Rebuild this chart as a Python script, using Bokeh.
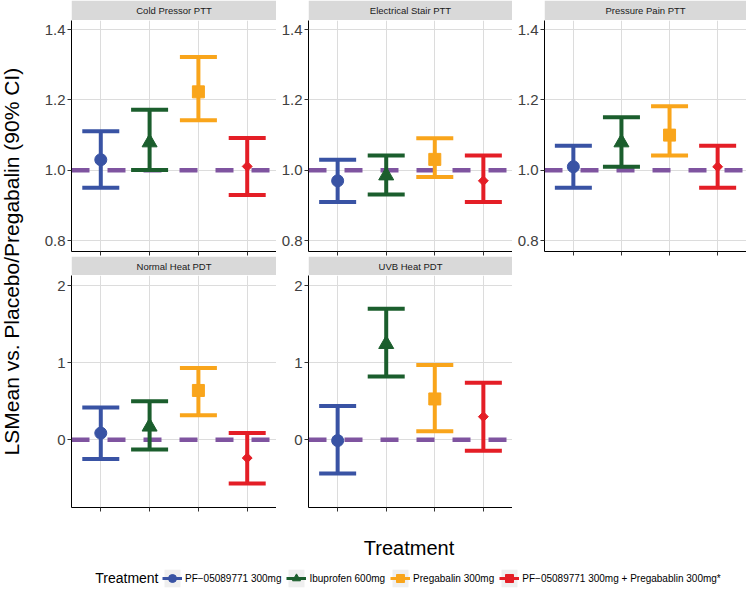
import math
from bokeh.plotting import figure
from bokeh.models import (Range1d, FactorRange, FixedTicker, Span, Legend, LegendItem,
                          ColumnDataSource, Spacer)
from bokeh.layouts import row, column
from bokeh.core.properties import value
from bokeh.embed import file_html
from bokeh.resources import INLINE

# ---------------- data ----------------
treatments = ["PF\u221205089771 300mg", "Ibuprofen 600mg", "Pregabalin 300mg",
              "PF\u221205089771 300mg + Pregabablin 300mg*"]
panel_titles = ["Cold Pressor PTT", "Electrical Stair PTT", "Pressure Pain PTT",
                "Normal Heat PDT", "UVB Heat PDT"]

cold_mean = [1.030, 1.079, 1.223, 1.011]
cold_low = [0.950, 1.001, 1.142, 0.930]
cold_high = [1.111, 1.172, 1.322, 1.092]

elec_mean = [0.970, 0.985, 1.031, 0.970]
elec_low = [0.910, 0.931, 0.981, 0.910]
elec_high = [1.030, 1.042, 1.091, 1.042]

press_mean = [1.010, 1.079, 1.100, 1.010]
press_low = [0.950, 1.010, 1.042, 0.950]
press_high = [1.070, 1.151, 1.182, 1.070]

normal_mean = [0.087, 0.170, 0.640, -0.235]
normal_low = [-0.250, -0.125, 0.320, -0.565]
normal_high = [0.420, 0.500, 0.930, 0.087]

uvb_mean = [-0.010, 1.240, 0.530, 0.300]
uvb_low = [-0.435, 0.820, 0.110, -0.140]
uvb_high = [0.440, 1.700, 0.970, 0.740]

top_ticks = [0.8, 1.0, 1.2, 1.4]
top_tick_labels = ["0.8", "1.0", "1.2", "1.4"]
bottom_ticks = [0, 1, 2]
bottom_tick_labels = ["0", "1", "2"]
top_reference = 1.0
bottom_reference = 0.0
top_limits = (0.769, 1.426)
bottom_limits = (-0.877, 2.13)

y_title = "LSMean vs. Placebo/Pregabalin (90% CI)"
x_title = "Treatment"
legend_title = "Treatment"

# ---------------- style ----------------
colors = ["#3953A4", "#1B5E2D", "#F9A51B", "#E41E26"]
markers = ["circle", "triangle", "square", "square"]
marker_sizes = [12, 15, 12, 7]
marker_angles = [0, 0, 0, math.pi / 4]
ref_color = "#7F54A0"
FONT = "Liberation Sans"
GRID = "#DCDCDC"

FRAME_WS = [205, 204, 202]
ROW_FRAME_H = [231, 232]
STRIP_H = [20, 19]
BOTTOM_B = 5
YLAB_W = 35
LEFT0 = 36
LEFTN = 32
NAN = float("nan")


def make_panel(means, lows, highs, limits, ticks, tick_labels, ref, left, fw, fh):
    src = ColumnDataSource(dict(t=treatments, mean=means, low=lows, high=highs,
                                color=colors, marker=markers, size=marker_sizes,
                                angle=marker_angles))
    p = figure(width=left + fw, height=fh + BOTTOM_B,
               x_range=FactorRange(factors=treatments, range_padding=0.1,
                                   range_padding_units="absolute"),
               y_range=Range1d(*limits), output_backend="svg", toolbar_location=None,
               min_border_left=left, min_border_right=0, min_border_top=0,
               min_border_bottom=BOTTOM_B)
    p.outline_line_color = None
    p.background_fill_color = "white"
    p.border_fill_color = "white"
    p.xgrid.grid_line_color = GRID
    p.ygrid.grid_line_color = GRID
    p.xgrid.grid_line_width = 1
    p.ygrid.grid_line_width = 1

    p.yaxis.ticker = FixedTicker(ticks=ticks)
    p.yaxis.major_label_overrides = {t: l for t, l in zip(ticks, tick_labels)}
    p.yaxis.minor_tick_line_color = None
    p.yaxis.major_label_text_font = FONT
    p.yaxis.major_label_text_font_size = "15px"
    p.yaxis.major_label_text_color = "#404040"
    p.yaxis.major_label_standoff = 2
    p.axis.major_tick_out = 4
    p.axis.major_tick_in = 0
    p.axis.major_tick_line_color = "#333333"
    p.axis.axis_line_color = "black"
    p.axis.axis_line_width = 1
    # x axis: ticks only, no labels (as in the reference)
    p.xaxis.major_label_text_color = None
    p.xaxis.major_label_text_font_size = "1px"
    p.xaxis.major_label_standoff = 0

    p.add_layout(Span(location=ref, dimension="width", line_color=ref_color,
                      line_width=4.5, line_dash="18 18", level="underlay"))
    p.segment(x0="t", y0="low", x1="t", y1="high", source=src, line_color="color",
              line_width=4)
    p.scatter(x="t", y="low", marker="dash", size=37, line_color="color",
              line_width=4, source=src)
    p.scatter(x="t", y="high", marker="dash", size=37, line_color="color",
              line_width=4, source=src)
    p.scatter(x="t", y="mean", marker="marker", size="size", angle="angle",
              fill_color="color", line_color="color", source=src)
    return p


def make_strip(title, left, fw, h):
    s = figure(width=left + fw, height=h, x_range=Range1d(0, 1),
               y_range=Range1d(0, 1), output_backend="svg", toolbar_location=None,
               min_border_left=left, min_border_right=0, min_border_top=0,
               min_border_bottom=0, x_axis_location=None, y_axis_location=None)
    s.grid.visible = False
    s.outline_line_color = None
    s.quad(left=[0], right=[1], bottom=[0], top=[1], fill_color="#D9D9D9",
           line_color=None)
    s.text(x=[0.5], y=[0.5], text=[title], text_align="center",
           text_baseline="middle", text_font=value(FONT), text_font_size="9.5px",
           text_color="#1A1A1A")
    return s


def blank(width, height, left=0, xr=(0, 1)):
    f = figure(width=width, height=height, x_range=Range1d(*xr), y_range=Range1d(0, 1),
               output_backend="svg", toolbar_location=None, min_border=0,
               min_border_left=left, min_border_right=0, min_border_top=0,
               min_border_bottom=0, x_axis_location=None, y_axis_location=None)
    f.grid.visible = False
    f.outline_line_color = None
    return f


lefts = [LEFT0, LEFTN, LEFTN]
p1 = make_panel(cold_mean, cold_low, cold_high, top_limits, top_ticks, top_tick_labels,
                top_reference, lefts[0], FRAME_WS[0], ROW_FRAME_H[0])
p2 = make_panel(elec_mean, elec_low, elec_high, top_limits, top_ticks, top_tick_labels,
                top_reference, lefts[1], FRAME_WS[1], ROW_FRAME_H[0])
p3 = make_panel(press_mean, press_low, press_high, top_limits, top_ticks, top_tick_labels,
                top_reference, lefts[2], FRAME_WS[2], ROW_FRAME_H[0])
p4 = make_panel(normal_mean, normal_low, normal_high, bottom_limits, bottom_ticks,
                bottom_tick_labels, bottom_reference, lefts[0], FRAME_WS[0], ROW_FRAME_H[1])
p5 = make_panel(uvb_mean, uvb_low, uvb_high, bottom_limits, bottom_ticks,
                bottom_tick_labels, bottom_reference, lefts[1], FRAME_WS[1], ROW_FRAME_H[1])

s1 = make_strip(panel_titles[0], lefts[0], FRAME_WS[0], STRIP_H[0])
s2 = make_strip(panel_titles[1], lefts[1], FRAME_WS[1], STRIP_H[0])
s3 = make_strip(panel_titles[2], lefts[2], FRAME_WS[2], STRIP_H[0])
s4 = make_strip(panel_titles[3], lefts[0], FRAME_WS[0], STRIP_H[1])
s5 = make_strip(panel_titles[4], lefts[1], FRAME_WS[1], STRIP_H[1])

grid_h = sum(STRIP_H) + sum(ROW_FRAME_H) + 2 * BOTTOM_B
panels_w = sum(lefts) + sum(FRAME_WS)
total_w = YLAB_W + panels_w
frame0 = YLAB_W + LEFT0

# y axis title
ylab = blank(YLAB_W, grid_h)
ylab.text(x=[0.314], y=[0.49], text=[y_title], angle=math.pi / 2, text_align="center",
          text_baseline="middle", text_font=value(FONT), text_font_size="21px",
          text_color="black")

# x axis title
XLAB_H = 48
xlab = blank(total_w, XLAB_H, left=frame0)
xlab.text(x=[0.5], y=[0.27], text=[x_title], text_align="center", text_baseline="middle",
          text_font=value(FONT), text_font_size="20px", text_color="black")

# legend (title drawn as text to its left); x range in pixels of the frame
LEG_H = 29
LEG_X0 = 91
lf = blank(total_w, LEG_H, left=frame0, xr=(0, total_w - frame0))
items = []
for name, c, m, sz, a in zip(treatments, colors, markers, marker_sizes, marker_angles):
    bg = lf.quad(left=[NAN], right=[NAN], top=[NAN], bottom=[NAN], fill_color="#EFEFEF",
                 line_color=None)
    ln = lf.line(x=[NAN], y=[NAN], line_color=c, line_width=3)
    sc = lf.scatter(x=[NAN], y=[NAN], marker=m, size=sz, angle=a, fill_color=c,
                    line_color=c)
    items.append(LegendItem(label=value(name), renderers=[bg, ln, sc]))
legend = Legend(items=items, location=(LEG_X0, 0), orientation="horizontal",
                glyph_width=20, glyph_height=22, label_standoff=3, spacing=5,
                padding=0, margin=0, border_line_color=None, background_fill_alpha=0,
                label_text_font=FONT, label_text_font_size="10px",
                label_text_color="black", label_height=22)
lf.text(x=[LEG_X0 - 4], y=[0.38], text=[legend_title], text_align="right",
        text_baseline="middle", text_font=value(FONT), text_font_size="14px",
        text_color="black")
lf.add_layout(legend)

grid_col = column(
    row(s1, s2, s3),
    row(p1, p2, p3),
    row(s4, s5, Spacer(width=lefts[2] + FRAME_WS[2], height=STRIP_H[1])),
    row(p4, p5, Spacer(width=lefts[2] + FRAME_WS[2], height=ROW_FRAME_H[1] + BOTTOM_B)),
)
page = column(row(ylab, grid_col), xlab, lf)

open("out.html", "w").write(file_html(page, INLINE))
